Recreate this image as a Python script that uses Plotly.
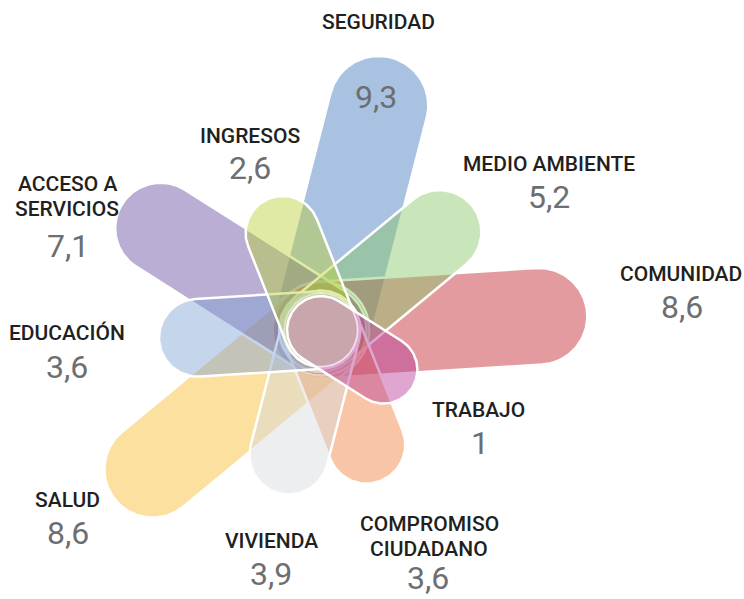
import numpy as np
import plotly.graph_objects as go

# ---------------- data ----------------
categories = ["SEGURIDAD", "MEDIO AMBIENTE", "COMUNIDAD", "TRABAJO",
              "COMPROMISO\nCIUDADANO", "VIVIENDA", "SALUD", "EDUCACIÓN",
              "ACCESO A\nSERVICIOS", "INGRESOS"]
values = [9.3, 5.2, 8.6, 1, 3.6, 3.9, 8.6, 3.6, 7.1, 2.6]

# ---------------- style / layout ----------------
# apparent (on white) petal tints
tints = ["#aac2e1", "#c9e6bb", "#e39ba0", "#dea6d0", "#f8c6a6",
         "#eceef0", "#fce0a0", "#c5d5eb", "#baaed4", "#e0eaa5"]
ALPHA = 0.45
# stacking order (bottom -> top)
z_order = ["SEGURIDAD", "COMUNIDAD", "SALUD", "ACCESO A\nSERVICIOS", "MEDIO AMBIENTE",
           "COMPROMISO\nCIUDADANO", "VIVIENDA", "EDUCACIÓN", "INGRESOS", "TRABAJO"]
# label anchors (name centre of first line, value centre)
label_pos = {
    "SEGURIDAD": ((378, 22), (376, 97)),
    "MEDIO AMBIENTE": ((549, 164), (549, 197)),
    "COMUNIDAD": ((681, 274), (682, 307)),
    "TRABAJO": ((478, 410), (480, 443)),
    "COMPROMISO\nCIUDADANO": ((429, 524), (428, 578)),
    "VIVIENDA": ((271, 541), (271, 574)),
    "SALUD": ((67, 500), (68, 533)),
    "EDUCACIÓN": ((67, 333), (67, 367)),
    "ACCESO A\nSERVICIOS": ((67, 184), (68, 246)),
    "INGRESOS": ((250, 136), (250, 168)),
}

W, H = 744, 599
CX, CY = 321, 330           # flower centre (axis units == pixels)
START_DEG = 14.4            # direction of first petal, clockwise from up


def length_scale(v):        # distance centre -> tip-circle centre
    return 55 + 19.0 * v


def radius_scale(v):        # half width of petal
    return 32 + 1.9 * v


def rgba_from_tint(hexcol, a):
    h = hexcol.lstrip("#")
    o = [int(h[i:i + 2], 16) for i in (0, 2, 4)]
    c = [max(0, min(255, round((x - 255 * (1 - a)) / a))) for x in o]
    return f"rgba({c[0]},{c[1]},{c[2]},{a})"


def capsule(theta_deg, L, r, n=60):
    t = np.radians(theta_deg)
    u = np.array([np.sin(t), -np.cos(t)])     # outward (screen coords, y down)
    p = np.array([np.cos(t), np.sin(t)])      # perpendicular
    c = np.array([CX, CY])
    tip = c + L * u
    phi1 = np.linspace(-np.pi / 2, np.pi / 2, n)
    phi2 = np.linspace(np.pi / 2, 3 * np.pi / 2, n)
    a1 = tip[None, :] + r * (np.cos(phi1)[:, None] * u + np.sin(phi1)[:, None] * p)
    a2 = c[None, :] + r * (np.cos(phi2)[:, None] * u + np.sin(phi2)[:, None] * p)
    pts = np.vstack([a1, a2, a1[:1]])
    return pts[:, 0], pts[:, 1]


step = 360 / len(categories)
fig = go.Figure()
for name in z_order:
    i = categories.index(name)
    v = values[i]
    xs, ys = capsule(START_DEG + i * step, length_scale(v), radius_scale(v))
    fig.add_trace(go.Scatter(
        x=xs, y=ys, mode="lines", fill="toself",
        fillcolor=rgba_from_tint(tints[i], ALPHA),
        line=dict(color="white", width=2.5),
        hoverinfo="skip", showlegend=False))

# light hub where all petal bases overlap
hub = np.linspace(0, 2 * np.pi, 120)
hub_r = radius_scale(min(values)) + 3
fig.add_trace(go.Scatter(
    x=CX + hub_r * np.cos(hub), y=CY + hub_r * np.sin(hub),
    mode="lines", fill="toself", fillcolor="rgba(255,255,255,0.3)",
    line=dict(color="rgba(255,255,255,0.6)", width=1.5),
    hoverinfo="skip", showlegend=False))


def fmt(v):
    return str(int(v)) if float(v).is_integer() else f"{v:.1f}".replace(".", ",")


annotations = []
for name, v in zip(categories, values):
    (nx, ny), (vx, vy) = label_pos[name]
    for k, line in enumerate(name.split("\n")):
        annotations.append(dict(
            x=nx, y=ny + 25 * k, text=line, showarrow=False,
            xanchor="center", yanchor="middle",
            font=dict(family="Roboto", size=21, color="#231f20", weight=500)))
    annotations.append(dict(
        x=vx, y=vy, text=fmt(v), showarrow=False,
        xanchor="center", yanchor="middle",
        font=dict(family="Roboto", size=32, color="#6d6e71")))

fig.update_layout(
    width=W, height=H,
    margin=dict(l=0, r=0, t=0, b=0),
    paper_bgcolor="white", plot_bgcolor="white",
    xaxis=dict(range=[0, W], visible=False, fixedrange=True),
    yaxis=dict(range=[H, 0], visible=False, fixedrange=True),
    annotations=annotations,
)

fig.write_html("out.html",
               config={"displayModeBar": False},
               post_script="document.body.style.margin='0';"
                           "document.body.style.overflow='hidden';")
